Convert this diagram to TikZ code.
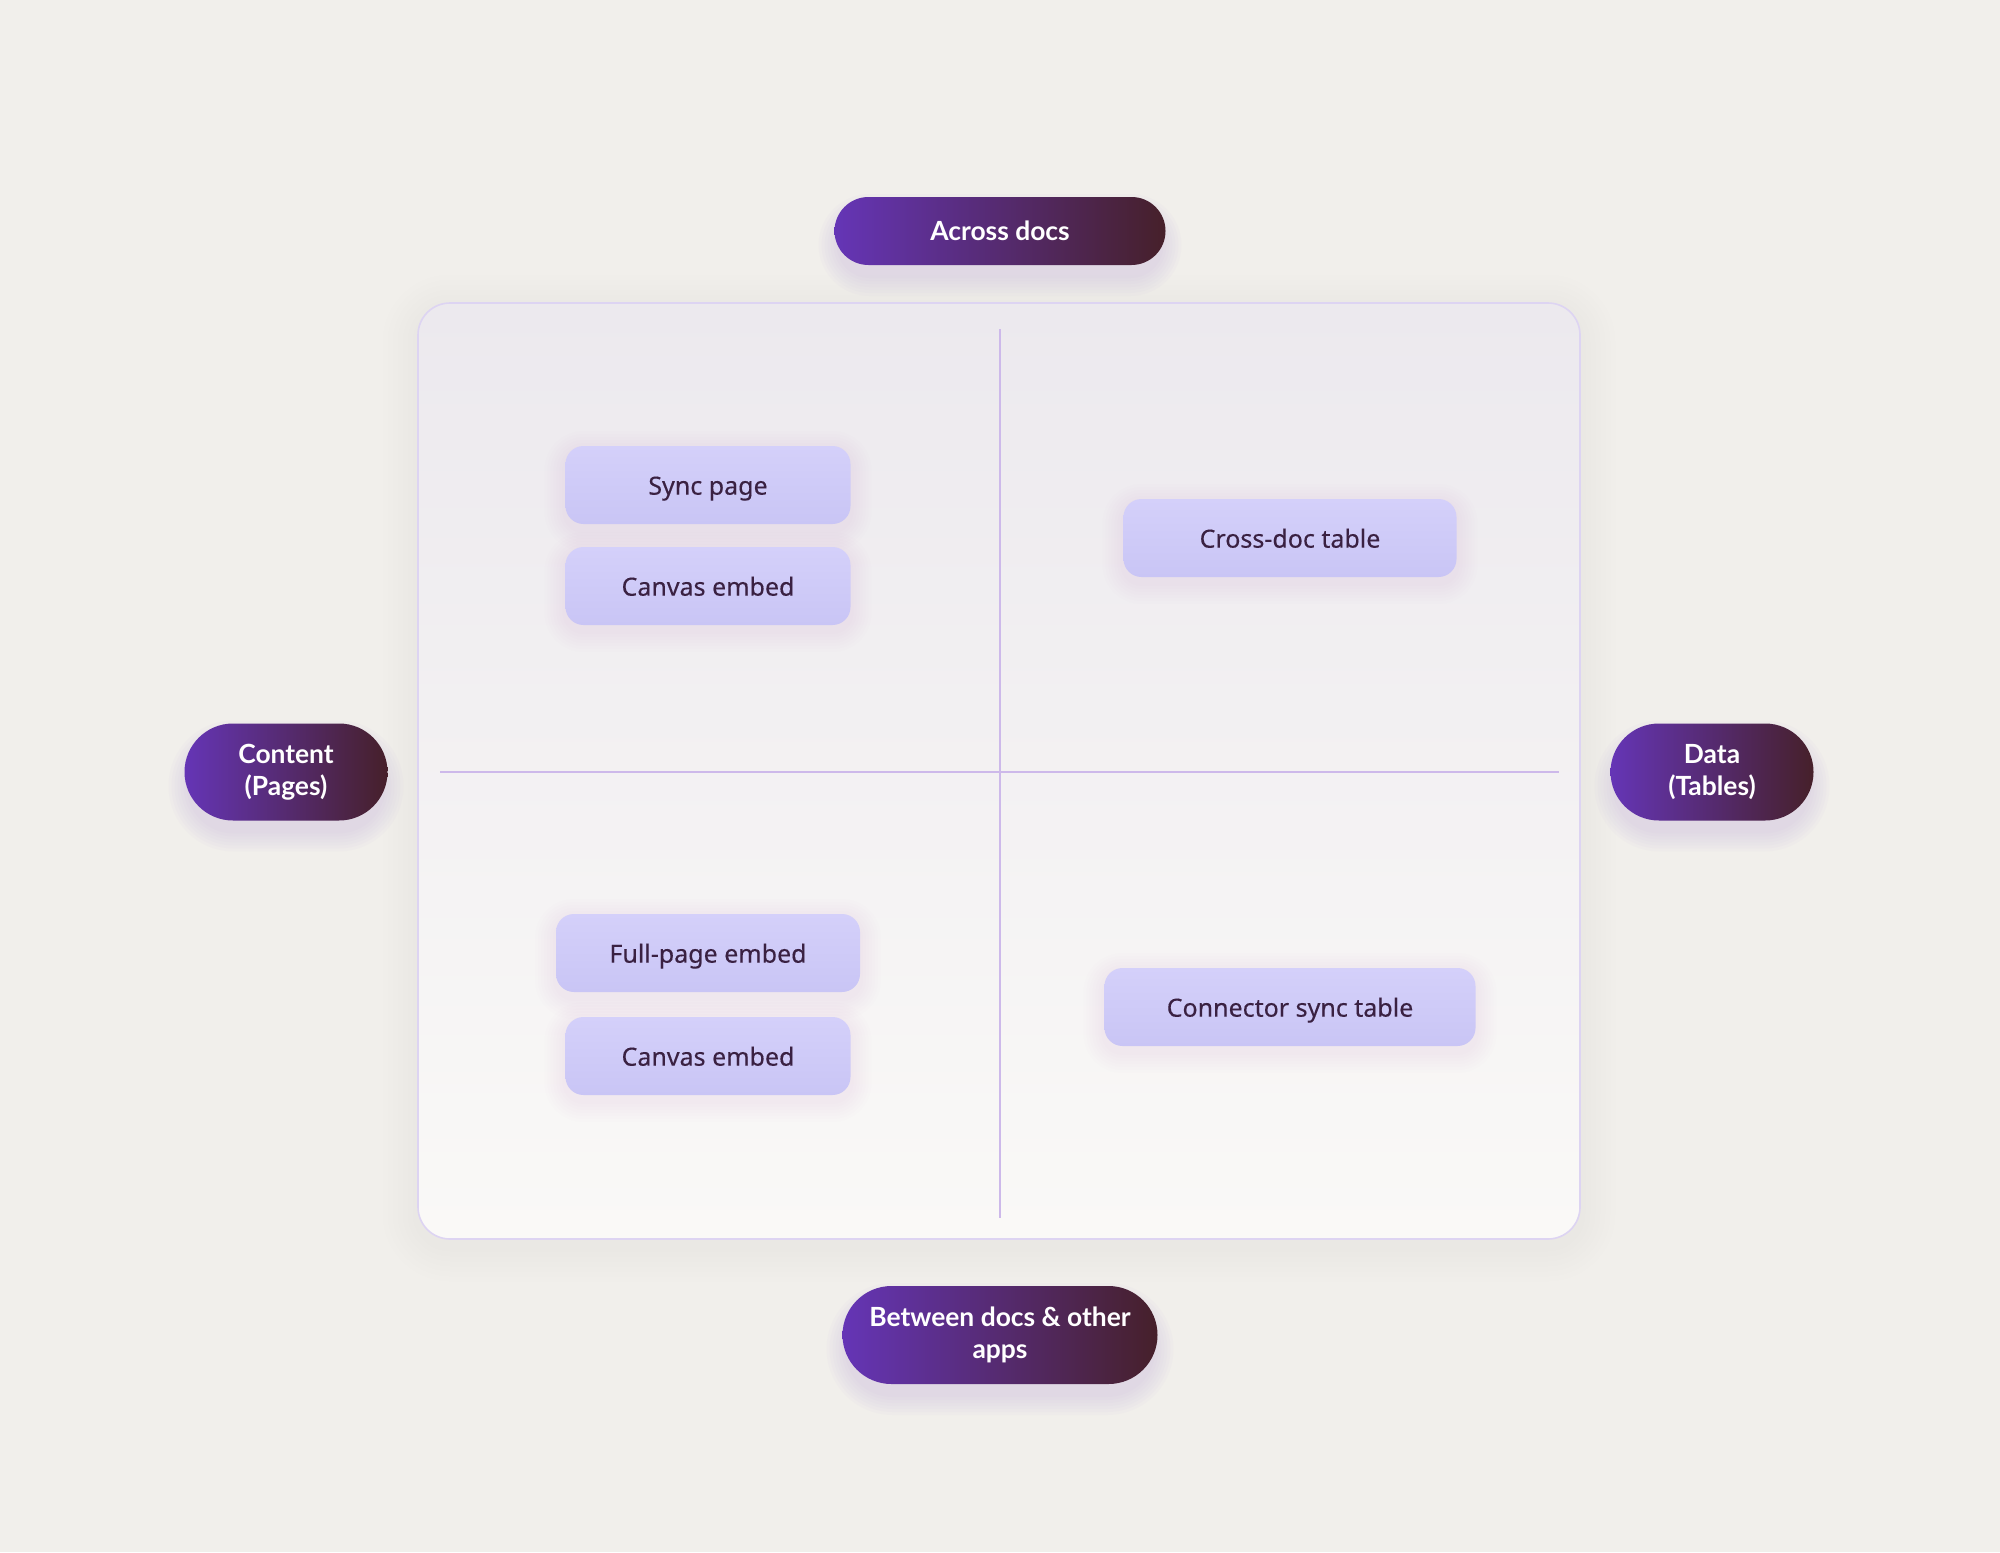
\documentclass[tikz,border=0pt]{standalone}
\usepackage{fontspec}
\setmainfont{Noto Sans}
\newfontfamily\pillfont{Lato}
\newfontfamily\boxfont[FakeBold=0.25]{Noto Sans}
\usetikzlibrary{shapes.misc}
\definecolor{bg}{HTML}{F1EFEB}
\definecolor{paneltop}{HTML}{ECE9EE}
\definecolor{panelbot}{HTML}{FAF9F7}
\definecolor{panelline}{HTML}{DDD4F2}
\definecolor{axis}{HTML}{CDB9EA}
\definecolor{boxtop}{HTML}{D4D0FA}
\definecolor{boxbot}{HTML}{C9C5F5}
\definecolor{boxtext}{HTML}{3A2142}
\definecolor{pillL}{HTML}{6535B6}
\definecolor{pillR}{HTML}{46202A}
\definecolor{glowc}{HTML}{A98BE0}
\definecolor{shadowc}{HTML}{C4BCD2}
% cx cy w h color spread radius opacity
\newcommand\softglow[8]{%
  \foreach \i in {1,...,7}{%
    \pgfmathsetmacro\dd{\i*#6}%
    \pgfmathsetmacro\rr{(#7+\dd)*0.5}%
    \fill[#5, opacity=#8, rounded corners=\rr pt]
      ({#1-#3/2-\dd},{#2-#4/2-\dd}) rectangle ({#1+#3/2+\dd},{#2+#4/2+\dd});
  }}
\begin{document}
\begin{tikzpicture}[x=0.5pt,y=-0.5pt,
  pill/.style={rounded rectangle, left color=pillL, right color=pillR,
    text=white, font=\fontsize{13.2}{16}\selectfont\pillfont\bfseries, align=center,
    inner sep=0pt},
  itembox/.style={rectangle, rounded corners=9pt, top color=boxtop, bottom color=boxbot,
    text=boxtext, font=\fontsize{12.5}{16}\selectfont\boxfont, minimum height=39pt,
    inner sep=0pt, text height=0.714em+2.5pt, text depth=0pt},
  axisline/.style={draw=axis, line width=1.1pt}]
\useasboundingbox (0,0) rectangle (2000,1552);
\fill[bg] (0,0) rectangle (2000,1552);

% panel shadow and panel
\softglow{999}{778}{1162}{936}{shadowc}{5}{32}{0.02}
\node[rectangle, rounded corners=16pt, top color=paneltop, bottom color=panelbot,
  draw=panelline, line width=0.8pt, minimum width=581pt, minimum height=468pt, inner sep=0pt]
  (panel) at (999,771) {};

% axes
\coordinate (vt) at (1000,329);
\coordinate (vb) at (1000,1218);
\coordinate (hl) at (440,772);
\coordinate (hr) at (1559,772);
\draw[axisline] (vt) -- (vb);
\draw[axisline] (hl) -- (hr);

% item box shadows
\softglow{708}{491}{285}{78}{glowc}{3}{18}{0.012}
\softglow{708}{592}{285}{78}{glowc}{3}{18}{0.012}
\softglow{1290}{544}{333}{78}{glowc}{3}{18}{0.012}
\softglow{708}{959}{304}{78}{glowc}{3}{18}{0.012}
\softglow{708}{1062}{285}{78}{glowc}{3}{18}{0.012}
\softglow{1290}{1013}{371}{78}{glowc}{3}{18}{0.012}

% item boxes
\node[itembox, minimum width=142.5pt] (sync) at (708,485) {Sync page};
\node[itembox, minimum width=142.5pt] (canvas1) at (708,586) {Canvas embed};
\node[itembox, minimum width=166.5pt] (crossdoc) at (1290,538) {Cross-doc table};
\node[itembox, minimum width=152pt] (fullpage) at (708,953) {Full-page embed};
\node[itembox, minimum width=142.5pt] (canvas2) at (708,1056) {Canvas embed};
\node[itembox, minimum width=185.5pt] (connector) at (1290,1007) {Connector sync table};

% pill glows
\softglow{1000}{245}{321}{60}{glowc}{3}{30}{0.03}
\softglow{286}{786}{193}{89}{glowc}{3}{44}{0.03}
\softglow{1712}{786}{193}{89}{glowc}{3}{44}{0.03}
\softglow{1000}{1349}{305}{90}{glowc}{3}{45}{0.03}

% pills
\node[pill, minimum width=165.5pt, minimum height=34pt] (across) at (1000,231) {Across docs};
\node[pill, minimum width=101.5pt, minimum height=48.5pt] (content) at (286,772) {Content\\(Pages)};
\node[pill, minimum width=101.5pt, minimum height=48.5pt] (data) at (1712,772) {Data\\(Tables)};
\node[pill, minimum width=157.5pt, minimum height=49pt] (between) at (1000,1335) {Between docs \& other\\apps};
\end{tikzpicture}
\end{document}
